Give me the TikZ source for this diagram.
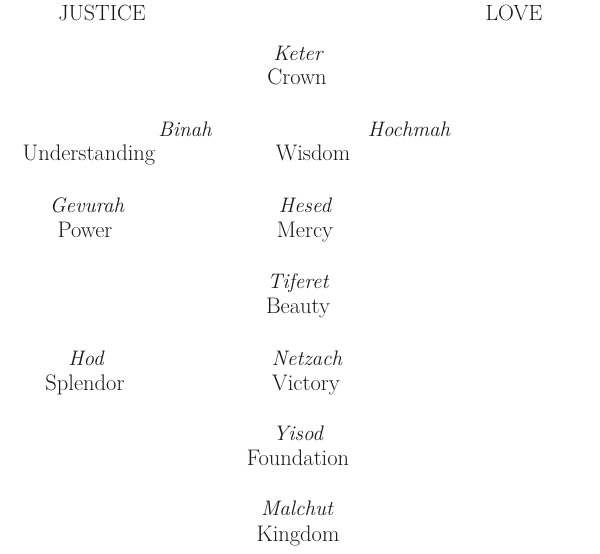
\documentclass[tikz,border=0pt]{standalone}
\usepackage{tikz}
\usetikzlibrary{positioning}

\begin{document}
\begin{tikzpicture}[x=1pt, y=-1pt,
    every node/.style={inner sep=0pt, anchor=base, text=black!90, font=\fontsize{22.5}{27}\selectfont},
    hebrew/.style={font=\fontsize{21}{25}\selectfont\itshape},
    pillar/.style={font=\fontsize{22}{26}\selectfont}]
    \useasboundingbox (0,0) rectangle (600,554);
    \node [pillar] (justice) at (102,20) {JUSTICE};
    \node [pillar] (love) at (514,20) {LOVE};
    \node [hebrew] (keter) at (298,60) {Keter};
    \node (crown) at (297,84) {Crown};
    \node [hebrew] (binah) at (185,136) {Binah};
    \node (understanding) at (89,160) {Understanding};
    \node [hebrew] (hochmah) at (409,136) {Hochmah};
    \node (wisdom) at (313,160) {Wisdom};
    \node [hebrew] (gevurah) at (87,212) {Gevurah};
    \node (power) at (85,237) {Power};
    \node [hebrew] (hesed) at (305,212) {Hesed};
    \node (mercy) at (305,237) {Mercy};
    \node [hebrew] (tiferet) at (298,288) {Tiferet};
    \node (beauty) at (298,313) {Beauty};
    \node [hebrew] (hod) at (86,365) {Hod};
    \node (splendor) at (85,390) {Splendor};
    \node [hebrew] (netzach) at (307,365) {Netzach};
    \node (victory) at (306,390) {Victory};
    \node [hebrew] (yisod) at (298,440) {Yisod};
    \node (foundation) at (298,465) {Foundation};
    \node [hebrew] (malchut) at (297,515) {Malchut};
    \node (kingdom) at (298,541) {Kingdom};
\end{tikzpicture}
\end{document}
